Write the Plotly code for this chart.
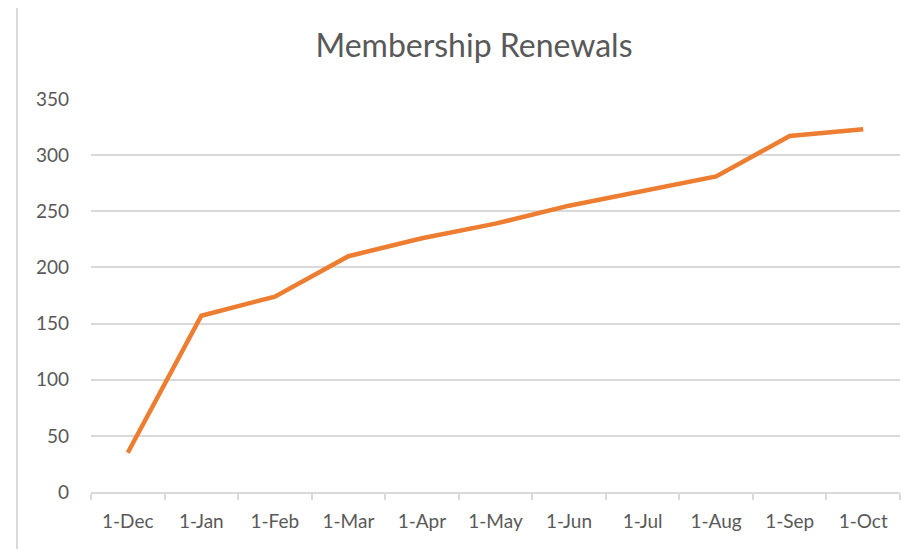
import plotly.graph_objects as go

# Membership renewals, cumulative by month
months = ["1-Dec", "1-Jan", "1-Feb", "1-Mar", "1-Apr", "1-May",
          "1-Jun", "1-Jul", "1-Aug", "1-Sep", "1-Oct"]
renewals = [35, 157, 174, 210, 226, 239, 255, 268, 281, 317, 323]
y_ticks = [0, 50, 100, 150, 200, 250, 300, 350]

W, H = 915, 549
OFF = 8  # page body margin shifts the figure by 8px
L, R, T, B = 91 - OFF, 15 + OFF, 99 - OFF, 57 + OFF
grey = "#d9d9d9"
text_col = "#595959"
font = "Lato, 'Open Sans', sans-serif"

fig = go.Figure(go.Scatter(
    x=months, y=renewals, mode="lines",
    line=dict(color="#ED7D31", width=4.5),
    hoverinfo="x+y",
))

pw = W - L - R
ph = H - T - B

fig.update_layout(
    width=W, height=H,
    margin=dict(l=L, r=R, t=T, b=B, pad=0),
    paper_bgcolor="white", plot_bgcolor="white",
    showlegend=False,
    font=dict(family=font, color=text_col, size=19),
    title=dict(text="Membership Renewals", x=(474 - OFF) / W, xref="container", xanchor="center",
               y=1 - (46 - OFF) / H, yref="container", yanchor="middle",
               font=dict(size=32, color=text_col, family=font)),
    xaxis=dict(
        type="category", showgrid=False, showline=True, linecolor=grey, linewidth=1.5,
        ticks="outside", tickson="boundaries", ticklen=6, tickcolor=grey, tickwidth=1.5,
        tickfont=dict(size=19, color=text_col), ticklabelstandoff=11,
        range=[-0.5, len(months) - 0.5],
    ),
    yaxis=dict(
        range=[0, 350], tickvals=y_ticks, showgrid=True, gridcolor=grey, gridwidth=1.5,
        zeroline=False, showline=False, ticks="",
        tickfont=dict(size=19, color=text_col), ticklabelstandoff=21,
    ),
    shapes=[dict(
        type="rect", xref="paper", yref="paper",
        x0=(17 - OFF - L) / pw, x1=(W + 10 - L) / pw,
        y0=(H - B - H - 20) / ph, y1=(H - B + 1) / ph,
        line=dict(color=grey, width=2), layer="below",
    )],
)

fig.write_html("out.html")
